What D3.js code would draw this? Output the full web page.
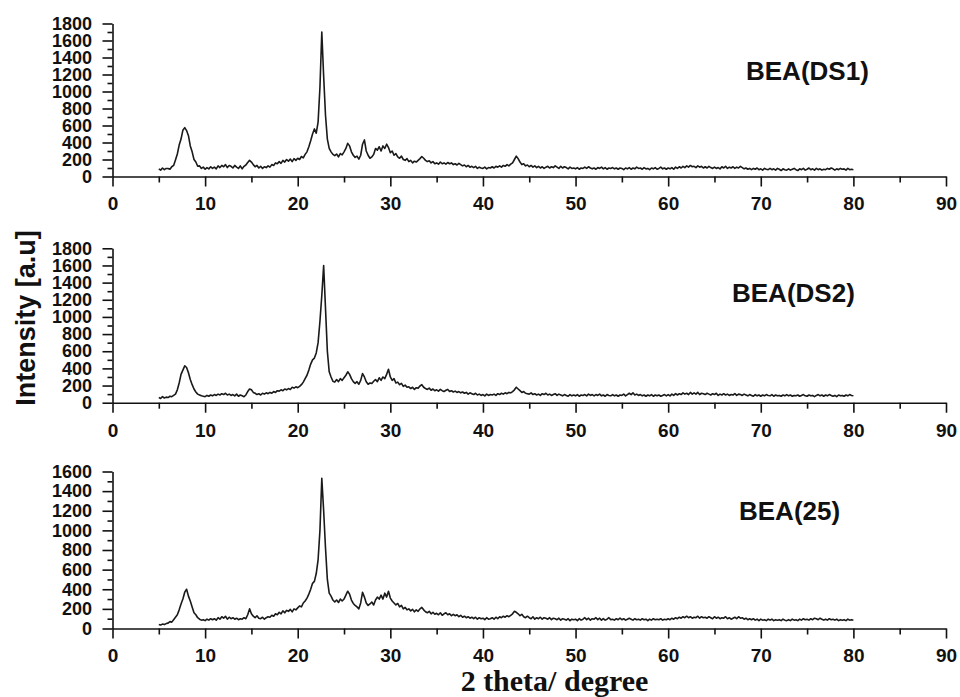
<!DOCTYPE html>
<html><head><meta charset="utf-8">
<script src="https://cdn.jsdelivr.net/npm/d3@7"></script>
<style>
html,body{margin:0;padding:0;background:#fff;}
svg{display:block;}
.tick text{font-family:"Liberation Sans",Arial,sans-serif;font-weight:bold;font-size:19px;fill:#111;}
.yax .tick text{font-size:18px;}
</style></head><body>
<svg id="chart" width="960" height="697"></svg>
<script>
// 2θ sampling grid: 5.0 to 80.0 in 0.2° steps (one row below = one degree)
const twoTheta = d3.range(376).map(i => +(5 + i * 0.2).toFixed(1));
const xTicks = [0, 10, 20, 30, 40, 50, 60, 70, 80, 90];
const xMinorTicks = [5, 15, 25, 35, 45, 55, 65, 75, 85];
const yTicks1800 = [0, 200, 400, 600, 800, 1000, 1200, 1400, 1600, 1800];
const yTicks1600 = [0, 200, 400, 600, 800, 1000, 1200, 1400, 1600];
const seriesNames = ["BEA(DS1)", "BEA(DS2)", "BEA(25)"];

const intensityDS1 = [
 90,75,100,80,95,
 95,85,115,130,195,
 265,370,440,545,575,
 540,480,360,290,200,
 170,120,125,95,110,
 85,105,90,115,95,
 110,90,125,105,130,
 115,140,105,130,120,
 100,130,110,95,125,
 90,120,135,165,190,
 170,140,115,130,100,
 120,95,115,105,125,
 110,140,130,160,150,
 175,155,190,170,200,
 180,205,175,210,190,
 215,200,235,220,260,
 290,350,420,500,560,
 510,640,1050,1700,1180,
 720,440,330,290,260,
 245,265,230,270,255,
 290,330,390,360,290,
 250,225,240,205,250,
 380,430,300,250,215,
 230,260,330,310,350,
 300,360,330,380,340,
 280,300,250,270,230,
 215,240,200,190,210,
 175,190,160,180,170,
 190,210,235,215,190,
 175,185,160,175,150,
 160,145,170,150,160,
 145,165,150,160,140,
 150,135,155,140,125,
 135,115,130,110,120,
 105,120,95,110,100,
 95,110,90,105,100,
 115,100,120,110,125,
 110,130,120,140,125,
 145,160,200,240,210,
 170,140,150,125,135,
 115,130,110,125,105,
 120,100,115,95,110,
 120,100,115,105,125,
 110,95,120,100,115,
 105,90,110,95,100,
 90,105,85,100,95,
 110,95,115,100,90,
 100,85,105,95,110,
 90,105,85,100,95,
 105,90,100,85,100,
 95,80,100,90,105,
 85,100,90,110,95,
 100,85,105,90,95,
 80,100,90,105,85,
 95,110,90,100,85,
 100,90,105,85,110,
 95,115,100,120,105,
 125,110,130,115,120,
 105,125,110,120,100,
 115,100,120,105,95,
 110,95,105,90,115,
 100,120,95,110,100,
 115,95,110,100,120,
 105,90,100,85,95,
 80,95,85,100,80,
 90,75,95,85,80,
 95,80,90,75,95,
 85,70,90,80,75,
 90,75,85,95,80,
 70,90,80,95,75,
 85,100,80,90,75,
 95,80,90,75,85,
 80,95,85,100,90,
 75,90,80,95,85,
 90,75,95,80,85,
 80
];

const intensityDS2 = [
 60,50,70,55,65,
 60,75,70,85,100,
 150,230,330,380,430,
 410,350,270,210,160,
 125,100,90,80,75,
 70,85,75,90,80,
 95,85,100,90,105,
 95,110,90,100,85,
 95,80,100,75,90,
 80,70,90,130,160,
 150,120,110,95,105,
 90,110,100,115,105,
 120,110,130,120,140,
 135,150,140,160,150,
 165,155,180,170,185,
 175,190,210,240,280,
 320,380,450,500,520,
 580,700,950,1250,1600,
 1100,600,360,300,250,
 240,270,245,280,260,
 290,320,360,330,280,
 245,225,245,215,260,
 340,300,245,215,230,
 225,250,270,245,290,
 260,300,280,330,390,
 300,260,280,230,240,
 210,225,190,205,180,
 185,165,180,155,175,
 170,195,210,180,165,
 155,170,145,160,140,
 150,135,155,140,130,
 145,155,130,140,125,
 135,120,130,115,125,
 110,120,100,115,105,
 95,110,90,100,85,
 95,80,100,85,95,
 90,100,85,105,95,
 110,100,115,105,120,
 115,130,150,180,160,
 140,120,130,110,105,
 100,115,95,105,90,
 100,85,105,95,110,
 90,100,85,95,105,
 85,100,90,80,95,
 85,75,95,80,90,
 80,95,75,90,85,
 95,80,100,85,95,
 80,95,85,100,80,
 90,75,95,85,80,
 95,80,90,75,90,
 85,100,80,95,110,
 95,115,90,100,85,
 95,80,90,75,90,
 80,95,75,90,80,
 90,75,85,95,80,
 95,80,100,85,105,
 90,105,95,115,100,
 110,95,120,100,115,
 100,120,95,110,105,
 95,110,100,90,105,
 95,110,85,100,90,
 105,90,100,85,95,
 90,105,85,100,95,
 85,100,90,80,95,
 85,75,95,80,90,
 75,90,80,95,85,
 80,95,75,90,80,
 85,75,90,80,95,
 80,90,75,85,80,
 90,75,85,95,80,
 75,90,80,85,70,
 85,95,80,90,75,
 90,80,95,85,75,
 85,70,90,80,85,
 75,90,80,95,85,
 80
];

const intensity25 = [
 40,35,45,40,50,
 55,70,65,90,115,
 140,190,250,300,370,
 400,330,280,220,160,
 140,110,95,85,90,
 80,95,85,100,90,
 100,85,110,95,120,
 105,125,95,115,100,
 110,95,105,90,100,
 95,110,100,140,200,
 150,125,110,130,105,
 100,115,95,110,120,
 115,135,125,150,140,
 165,150,180,160,185,
 175,195,170,200,190,
 210,230,220,260,280,
 310,350,400,460,480,
 560,700,1000,1530,1200,
 820,500,360,330,290,
 270,290,265,300,280,
 300,340,380,350,290,
 255,235,220,200,260,
 370,320,260,235,250,
 270,240,290,320,300,
 340,300,360,320,380,
 310,280,260,240,255,
 220,235,200,215,190,
 200,180,195,170,190,
 175,200,215,190,170,
 160,175,150,165,145,
 155,140,160,135,150,
 160,140,150,130,145,
 130,140,120,135,115,
 125,110,120,105,115,
 100,115,95,110,100,
 105,90,110,95,100,
 110,95,115,100,120,
 110,125,115,130,120,
 135,150,175,165,150,
 130,145,120,110,125,
 110,100,120,95,110,
 100,115,95,110,105,
 95,110,90,105,100,
 90,105,85,100,95,
 85,100,80,95,90,
 95,80,100,85,95,
 110,90,105,85,100,
 95,110,90,105,85,
 100,85,95,110,90,
 95,85,100,90,105,
 90,100,85,95,105,
 95,85,100,90,95,
 85,100,90,95,80,
 95,85,100,90,95,
 90,100,85,95,90,
 100,90,105,95,110,
 100,115,105,120,110,
 125,110,120,105,115,
 110,125,105,120,110,
 115,105,120,110,100,
 120,105,115,100,110,
 105,120,100,110,95,
 105,115,100,120,105,
 110,95,105,90,100,
 90,100,85,95,80,
 95,85,90,80,95,
 85,95,80,90,85,
 90,80,95,85,80,
 90,80,95,85,90,
 80,95,85,100,90,
 95,85,100,90,105,
 100,90,105,95,85,
 95,85,100,90,95,
 85,95,80,90,85,
 90,80,95,85,90,
 85
];

// ---------- layout ----------
const svg = d3.select("#chart");
const FONT = '"Liberation Sans", Arial, sans-serif';
const x = d3.scaleLinear().domain([0, 90]).range([112.5, 946]);
const intFmt = d3.format("d");

const panels = [
  { name: seriesNames[0], values: intensityDS1, yMax: 1800, ticks: yTicks1800, r0: 176.5, r1: 23.5, lx: 746, ly: 80 },
  { name: seriesNames[1], values: intensityDS2, yMax: 1800, ticks: yTicks1800, r0: 402.7, r1: 248.3, lx: 732, ly: 302 },
  { name: seriesNames[2], values: intensity25,  yMax: 1600, ticks: yTicks1600, r0: 628.5, r1: 471.5, lx: 739, ly: 520 }
];

panels.forEach(p => {
  const y = d3.scaleLinear().domain([0, p.yMax]).range([p.r0, p.r1]);
  const g = svg.append("g");
  const minorY = d3.range(100, p.yMax, 200);

  // minor ticks
  g.append("g").attr("transform", `translate(${x(0)},0)`)
    .call(d3.axisLeft(y).tickValues(minorY).tickSize(5).tickFormat(""))
    .call(s => s.select(".domain").remove());
  g.append("g").attr("transform", `translate(0,${p.r0})`)
    .call(d3.axisBottom(x).tickValues(xMinorTicks).tickSize(6).tickFormat(""))
    .call(s => s.select(".domain").remove());

  // major axes
  g.append("g").attr("class", "yax").attr("transform", `translate(${x(0)},0)`)
    .call(d3.axisLeft(y).tickValues(p.ticks).tickFormat(intFmt).tickSize(10).tickPadding(10.5).tickSizeOuter(0));
  g.append("g").attr("transform", `translate(0,${p.r0})`)
    .call(d3.axisBottom(x).tickValues(xTicks).tickFormat(intFmt).tickSize(10).tickPadding(10.5).tickSizeOuter(0));

  g.selectAll(".domain, .tick line").attr("stroke", "#111").attr("stroke-width", 1.6);
  g.selectAll(".tick text").attr("font-family", null).attr("font-size", null);

  // data line
  const pts = twoTheta.map((t, i) => [t, p.values[i]]);
  g.append("path").datum(pts)
    .attr("fill", "none").attr("stroke", "#1a1a1a").attr("stroke-width", 1.6)
    .attr("stroke-linejoin", "round")
    .attr("d", d3.line().x(d => x(d[0])).y(d => y(d[1])));

  // sample label
  g.append("text").attr("x", p.lx).attr("y", p.ly)
    .attr("font-family", FONT).attr("font-weight", "bold").attr("font-size", 26)
    .attr("fill", "#111").text(p.name);
});

// axis titles
svg.append("text")
  .attr("transform", "translate(34.5,318) rotate(-90)")
  .attr("text-anchor", "middle")
  .attr("font-family", FONT).attr("font-weight", "bold").attr("font-size", 27)
  .attr("fill", "#111").text("Intensity [a.u]");

svg.append("text")
  .attr("x", 554.5).attr("y", 691)
  .attr("text-anchor", "middle")
  .attr("font-family", '"Liberation Serif", "Times New Roman", serif')
  .attr("font-weight", "bold").attr("font-size", 30)
  .attr("fill", "#111").text("2 theta/ degree");
</script>
</body></html>
